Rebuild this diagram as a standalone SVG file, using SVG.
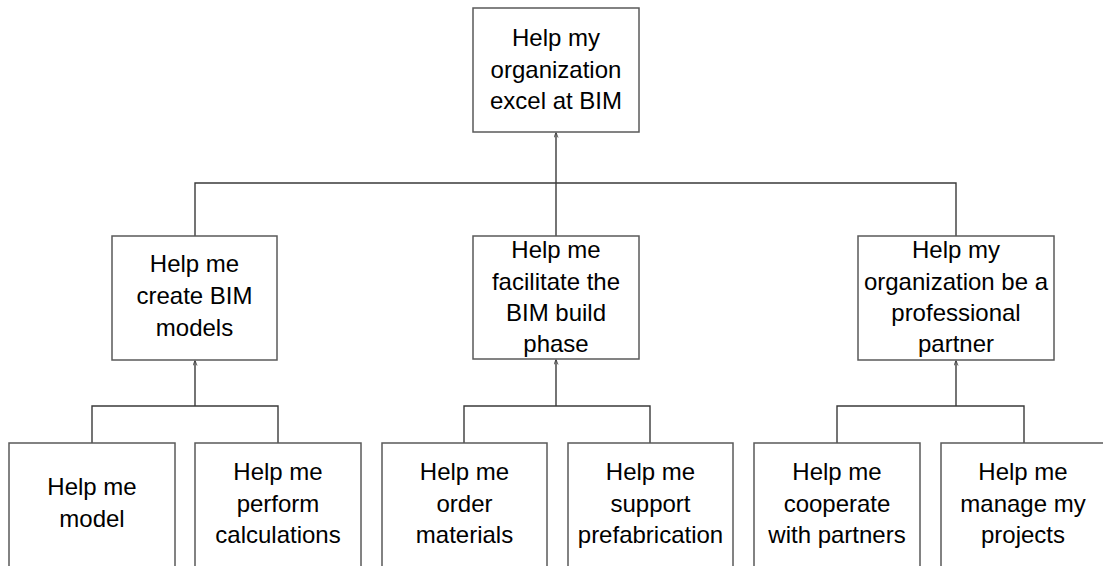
<svg xmlns="http://www.w3.org/2000/svg" width="1103" height="566" viewBox="0 0 1103 566">
<style>
.box{fill:#fff;stroke:#5a5a5a;stroke-width:1.5}
.t{font-family:"Liberation Sans",Arial,sans-serif;font-size:24px;fill:#000;text-anchor:middle}
.c{fill:none;stroke:#3a3a3a;stroke-width:1.4}
</style>
<defs>
<marker id="arr" viewBox="0 0 10 10" refX="10" refY="5" markerWidth="5" markerHeight="5" orient="auto" markerUnits="userSpaceOnUse">
<path d="M0,1 L10,5 L0,9" fill="none" stroke="#3a3a3a" stroke-width="1.6"/>
</marker>
</defs>
<rect width="1103" height="566" fill="#fff"/>
<g id="connectors">
<path class="c" d="M556,236 V132.5" marker-end="url(#arr)"/>
<path class="c" d="M195,236 V183 H956 V236"/>
<path class="c" d="M195,406 V360.5" marker-end="url(#arr)"/>
<path class="c" d="M92,443 V406 H278 V443"/>
<path class="c" d="M556,406 V359.5" marker-end="url(#arr)"/>
<path class="c" d="M464,443 V406 H650 V443"/>
<path class="c" d="M956,406 V360.5" marker-end="url(#arr)"/>
<path class="c" d="M837,443 V406 H1024 V443"/>
</g>
<g id="n0"><rect class="box" x="473" y="8" width="166" height="124"/>
<text class="t" x="556" y="46">Help my</text><text class="t" x="556" y="77.5">organization</text><text class="t" x="556" y="109">excel at BIM</text></g>
<g id="n1"><rect class="box" x="112" y="236" width="165" height="124"/>
<text class="t" x="194.5" y="272">Help me</text><text class="t" x="194.5" y="304">create BIM</text><text class="t" x="194.5" y="336">models</text></g>
<g id="n2"><rect class="box" x="473" y="236" width="166" height="123"/>
<text class="t" x="556" y="258">Help me</text><text class="t" x="556" y="289.5">facilitate the</text><text class="t" x="556" y="321">BIM build</text><text class="t" x="556" y="352">phase</text></g>
<g id="n3"><rect class="box" x="858" y="236" width="196" height="124"/>
<text class="t" x="956" y="258">Help my</text><text class="t" x="956" y="289.5">organization be a</text><text class="t" x="956" y="321">professional</text><text class="t" x="956" y="352">partner</text></g>
<g id="n4"><rect class="box" x="9" y="443" width="166" height="130"/>
<text class="t" x="92" y="495">Help me</text><text class="t" x="92" y="527">model</text></g>
<g id="n5"><rect class="box" x="195" y="443" width="166" height="130"/>
<text class="t" x="278" y="480">Help me</text><text class="t" x="278" y="511.5">perform</text><text class="t" x="278" y="543">calculations</text></g>
<g id="n6"><rect class="box" x="382" y="443" width="165" height="130"/>
<text class="t" x="464.5" y="480">Help me</text><text class="t" x="464.5" y="511.5">order</text><text class="t" x="464.5" y="543">materials</text></g>
<g id="n7"><rect class="box" x="568" y="443" width="165" height="130"/>
<text class="t" x="650.5" y="480">Help me</text><text class="t" x="650.5" y="511.5">support</text><text class="t" x="650.5" y="543">prefabrication</text></g>
<g id="n8"><rect class="box" x="754" y="443" width="166" height="130"/>
<text class="t" x="837" y="480">Help me</text><text class="t" x="837" y="511.5">cooperate</text><text class="t" x="837" y="543">with partners</text></g>
<g id="n9"><rect class="box" x="941" y="443" width="166" height="130"/>
<text class="t" x="1023" y="480">Help me</text><text class="t" x="1023" y="511.5">manage my</text><text class="t" x="1023" y="543">projects</text></g>
</svg>
